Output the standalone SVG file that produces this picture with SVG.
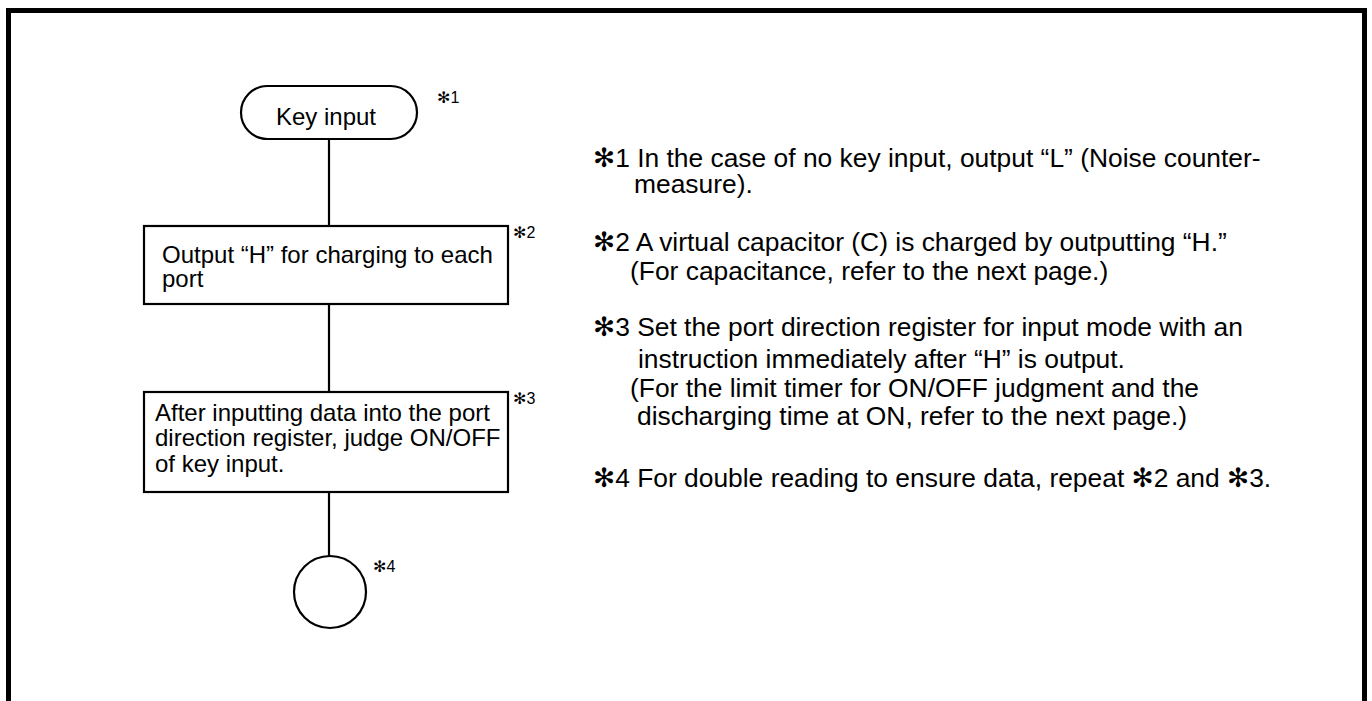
<svg xmlns="http://www.w3.org/2000/svg" width="1372" height="701" viewBox="0 0 1372 701">
<style>
.t{font-family:"Liberation Sans",Arial,sans-serif;font-size:24px;fill:#000}
.n{font-family:"Liberation Sans",Arial,sans-serif;font-size:26.4px;fill:#000}
.s{font-family:"Liberation Sans","DejaVu Sans",sans-serif;font-size:16px;fill:#000}
.a{font-family:"DejaVu Sans",sans-serif}
.shape{fill:#fff;stroke:#000;stroke-width:2.2}
.conn{stroke:#000;stroke-width:2.2;fill:none}
</style>
<rect width="1372" height="701" fill="#fff"/>
<path d="M8.5,701 V10.5 H1364.5 V701" fill="none" stroke="#000" stroke-width="5"/>
<g id="connectors">
<line class="conn" x1="329" y1="139" x2="329" y2="226"/>
<line class="conn" x1="329" y1="304" x2="329" y2="392"/>
<line class="conn" x1="329" y1="492" x2="329" y2="556"/>
</g>
<g id="start">
<rect class="shape" x="241" y="86" width="176" height="53" rx="26.5"/>
<text class="t" x="326" y="125" text-anchor="middle">Key input</text>
<text class="s" x="437" y="103"><tspan class="a">✻</tspan>1</text>
</g>
<g id="charge">
<rect class="shape" x="144" y="226" width="364" height="78"/>
<text class="t" x="162" y="263">Output “H” for charging to each</text>
<text class="t" x="162" y="287">port</text>
<text class="s" x="513" y="238"><tspan class="a">✻</tspan>2</text>
</g>
<g id="judge">
<rect class="shape" x="144" y="392" width="364" height="100"/>
<text class="t" x="155" y="421">After inputting data into the port</text>
<text class="t" x="155" y="446">direction register, judge ON/OFF</text>
<text class="t" x="155" y="472">of key input.</text>
<text class="s" x="513" y="404"><tspan class="a">✻</tspan>3</text>
</g>
<g id="end">
<circle class="shape" cx="330" cy="592" r="36"/>
<text class="s" x="373" y="572"><tspan class="a">✻</tspan>4</text>
</g>
<g id="notes">
<text class="n" x="593" y="167"><tspan class="a">✻</tspan>1 In the case of no key input, output “L” (Noise counter-</text>
<text class="n" x="634" y="193">measure).</text>
<text class="n" x="593" y="251"><tspan class="a">✻</tspan>2 A virtual capacitor (C) is charged by outputting “H.”</text>
<text class="n" x="630" y="280">(For capacitance, refer to the next page.)</text>
<text class="n" x="593" y="336"><tspan class="a">✻</tspan>3 Set the port direction register for input mode with an</text>
<text class="n" x="638" y="368">instruction immediately after “H” is output.</text>
<text class="n" x="630" y="397">(For the limit timer for ON/OFF judgment and the</text>
<text class="n" x="637" y="425">discharging time at ON, refer to the next page.)</text>
<text class="n" x="593" y="487"><tspan class="a">✻</tspan>4 For double reading to ensure data, repeat <tspan class="a">✻</tspan>2 and <tspan class="a">✻</tspan>3.</text>
</g>
</svg>
